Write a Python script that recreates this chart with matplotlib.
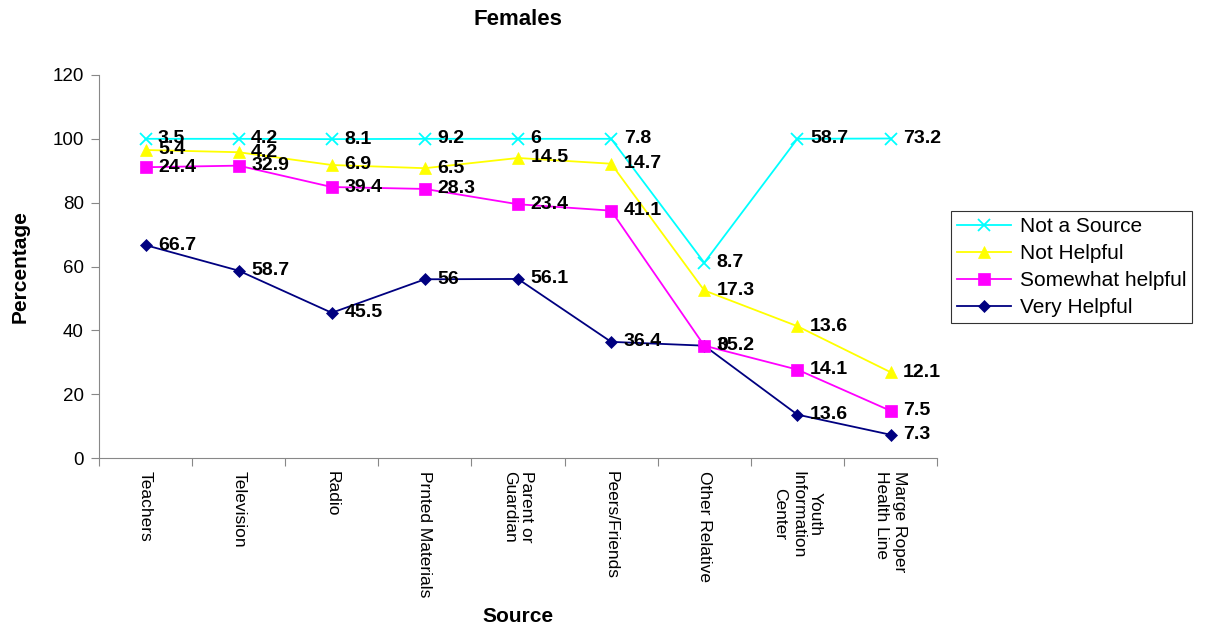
import numpy as np
import matplotlib.pyplot as plt

plt.rcParams['font.family'] = ['Liberation Sans', 'DejaVu Sans']

sources = ["Teachers", "Television", "Radio", "Prnted Materials", "Parent or\nGuardian",
           "Peers/Friends", "Other Relative", "Youth\nInformation\nCenter",
           "Marge Roper\nHealth Line"]

very_helpful = [66.7, 58.7, 45.5, 56, 56.1, 36.4, 35.2, 13.6, 7.3]
somewhat_helpful = [24.4, 32.9, 39.4, 28.3, 23.4, 41.1, 0, 14.1, 7.5]
not_helpful = [5.4, 4.2, 6.9, 6.5, 14.5, 14.7, 17.3, 13.6, 12.1]
not_a_source = [3.5, 4.2, 8.1, 9.2, 6, 7.8, 8.7, 58.7, 73.2]

# stacked lines: each series sits on top of the ones below it
series = [
    ("Very Helpful", very_helpful, "#000080", "D", 6),
    ("Somewhat helpful", somewhat_helpful, "#FF00FF", "s", 8),
    ("Not Helpful", not_helpful, "#FFFF00", "^", 9),
    ("Not a Source", not_a_source, "#00FFFF", "x", 8),
]

fig = plt.figure(figsize=(12.2, 6.29), dpi=100)
ax = fig.add_axes([0.0811, 0.2718, 0.687, 0.609])

x = np.arange(len(sources))
base = np.zeros(len(sources))
handles = []
for name, vals, color, marker, ms in series:
    vals = np.array(vals, dtype=float)
    top = base + vals
    h, = ax.plot(x, top, color=color, marker=marker, markersize=ms, linewidth=1.3,
                 markeredgewidth=1.3 if marker == "x" else 0.5, label=name, zorder=3)
    handles.append(h)
    for xi, yi, v in zip(x, top, vals):
        ax.annotate(f"{v:g}", (xi, yi), xytext=(9, 0), textcoords="offset points",
                    va="center", ha="left", fontsize=14, fontweight="bold", zorder=4)
    base = top

ax.set_xlim(-0.5, len(sources) - 0.5)
ax.set_ylim(0, 120)
ax.set_yticks(range(0, 121, 20))
ax.set_xticks(np.arange(-0.5, len(sources)), minor=False)
ax.set_xticklabels([])
ax.set_xticks(x, minor=True)
ax.set_xticklabels(sources, minor=True, rotation=270, fontsize=12.5,
                   va="top", ha="center", multialignment="left")
for lbl in ax.get_xticklabels(minor=True):
    if lbl.get_text().startswith("Youth"):
        lbl.set_multialignment("center")
ax.tick_params(axis="x", which="minor", length=0, pad=9)
ax.tick_params(axis="x", which="major", length=6, color="#888888")
ax.tick_params(axis="y", length=6, color="#888888", labelsize=13.5, pad=5)

for s in ["top", "right"]:
    ax.spines[s].set_visible(False)
for s in ["left", "bottom"]:
    ax.spines[s].set_color("#888888")

ax.set_title("Females", fontsize=16, fontweight="bold", pad=36)
ax.set_xlabel("Source", fontsize=15, fontweight="bold")
ax.xaxis.set_label_coords(0.5, -0.39)
ax.set_ylabel("Percentage", fontsize=15, fontweight="bold", labelpad=16)

leg = fig.legend(handles[::-1], [h.get_label() for h in handles[::-1]],
                 loc="upper left", bbox_to_anchor=(0.7795, 0.6645), borderaxespad=0,
                 fontsize=15, frameon=True, fancybox=False, edgecolor="black",
                 borderpad=0.3, handlelength=2.6, handletextpad=0.4, labelspacing=0.38)
leg.get_frame().set_linewidth(0.8)

fig.savefig("out.png", dpi=100)
